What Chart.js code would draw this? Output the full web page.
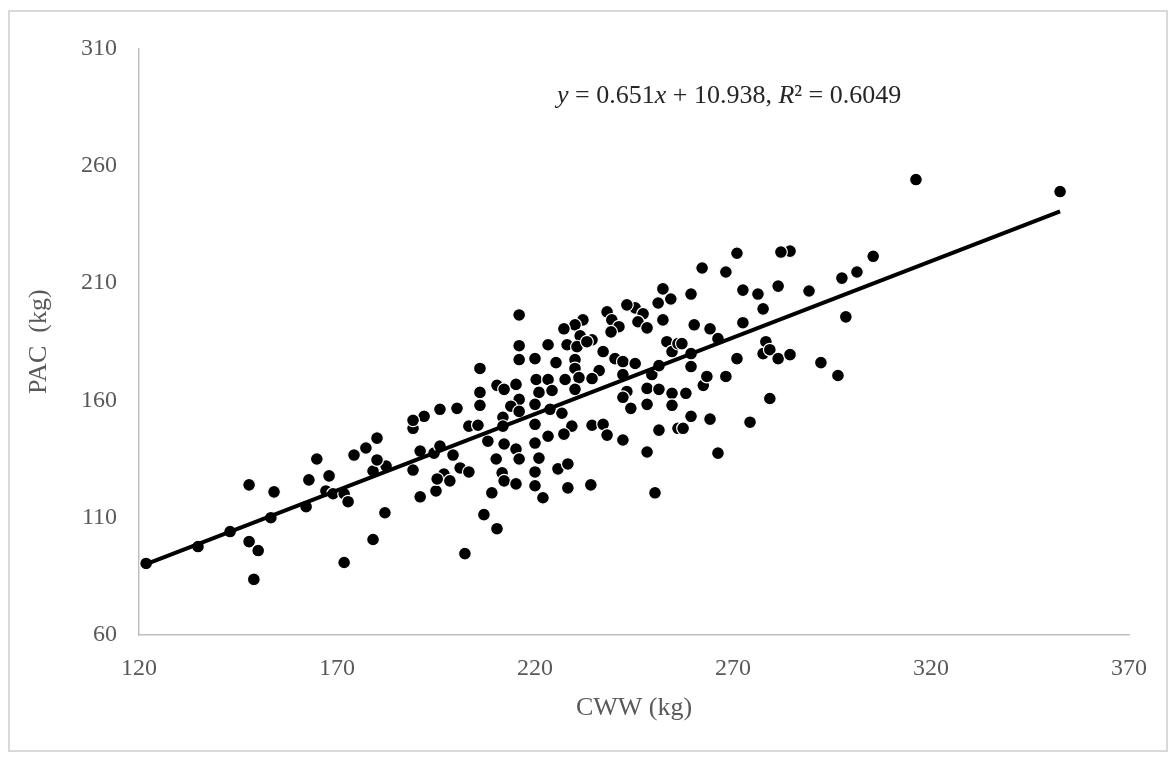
<!DOCTYPE html>
<html>
<head>
<meta charset="utf-8">
<script src="https://cdn.jsdelivr.net/npm/chart.js@4.4.1/dist/chart.umd.min.js"></script>
<style>
  html, body { margin: 0; padding: 0; background: #fff; }
  body { width: 1174px; height: 760px; position: relative; overflow: hidden; }
  #frame { position: absolute; left: 8px; top: 10px; width: 1156px; height: 738px; border: 2px solid #d9d9d9; }
  #eq { position: absolute; left: 557px; top: 82px; font-family: "Liberation Serif", serif; font-size: 26px; line-height: 26px; color: #262626; white-space: nowrap; }
</style>
</head>
<body>
<div id="frame"><canvas id="chart" width="1156" height="738"></canvas></div>
<div id="eq"><i>y</i> = 0.651<i>x</i> + 10.938, <i>R</i>² = 0.6049</div>
<script>
// CWW (kg) and PAC (kg)
const cww = [
  121.8, 134.9, 143.0, 147.8, 147.8, 150.1, 149.0, 154.1, 153.3, 162.2, 162.9, 164.9, 167.2,
  168.0, 169.0, 171.8, 172.8, 179.1, 182.4, 189.2, 182.1, 179.1, 171.8, 191.0, 195.0, 197.0, 198.5, 195.3,
  196.0, 192.0, 189.2, 189.2, 180.1, 177.3, 174.3, 180.1, 191.0, 194.5, 196.0,
  216.0, 216.0, 223.3, 216.0, 220.0, 225.3, 206.1, 210.4, 212.2, 215.2, 220.3, 223.3, 206.1, 206.1, 200.3,
  216.0, 221.0, 224.3, 213.9, 220.0, 216.0, 223.8, 211.9,
  203.3, 205.6, 211.9, 220.0, 208.1, 212.2, 215.2, 216.0, 210.2, 220.0, 223.3, 221.0, 199.3, 201.1, 203.3,
  211.7, 212.2, 215.2, 220.0, 220.0, 225.8, 209.1, 222.0, 207.1, 202.3, 210.4,
  252.3, 251.1, 254.3, 252.3, 245.3, 243.2, 247.3, 246.0, 248.3, 238.2, 239.4, 241.2, 239.2, 232.1, 230.1,
  227.3, 231.4, 234.4, 228.1, 230.6, 233.1, 237.2, 230.1, 230.1, 240.2, 242.2, 245.3, 236.2, 227.6, 231.1,
  234.4, 230.1, 242.2, 249.5, 251.3, 253.3, 254.6, 256.1, 248.3, 251.3, 254.6, 243.2,
  242.2, 244.2, 248.3, 254.6, 226.8, 229.3, 227.3, 234.4, 237.2, 238.2, 242.2, 251.3, 256.1, 248.3, 228.3,
  228.3, 234.1, 250.3,
  271.0, 284.4, 282.1, 262.2, 268.2, 259.4, 272.5, 276.3, 281.4, 277.6, 260.2, 264.2, 272.5, 266.2, 257.1, 259.4,
  278.3, 277.6, 279.3, 281.4, 284.4, 271.0, 259.4, 268.2, 262.5, 263.4, 258.1, 279.3,
  259.4, 257.4, 264.2, 274.3, 266.2,
  316.2, 352.6, 305.4, 301.3, 297.5, 289.2, 298.5, 292.2, 296.5
];
const pac = [
  90.5, 97.7, 104.1, 124.0, 99.8, 96.0, 83.7, 121.0, 110.0, 114.7, 126.1, 135.0, 121.4,
  127.8, 120.2, 120.2, 116.8, 129.9, 132.0, 130.3, 112.1, 100.7, 90.9, 118.9, 121.4, 128.6, 125.7, 126.5,
  156.2, 153.2, 148.1, 151.5, 143.9, 139.7, 136.7, 134.6, 138.4, 137.5, 140.5,
  196.4, 183.3, 183.7, 177.4, 177.8, 176.1, 173.6, 166.4, 164.7, 166.8, 168.9, 168.9, 163.4, 157.9, 156.6,
  160.4, 163.4, 164.2, 157.5, 158.3, 155.3, 156.2, 152.8,
  149.0, 149.4, 149.0, 149.8, 142.6, 141.4, 139.2, 135.0, 135.0, 141.8, 144.7, 135.4, 136.7, 131.2, 129.5,
  129.1, 125.7, 124.4, 129.5, 123.6, 130.8, 120.6, 118.5, 111.3, 94.7, 105.3,
  207.5, 201.5, 203.2, 194.3, 199.4, 200.7, 196.9, 193.5, 190.9, 197.7, 194.3, 191.4, 189.2, 194.3, 192.2,
  190.5, 187.5, 185.8, 183.7, 182.9, 185.0, 180.8, 177.4, 173.6, 177.8, 176.5, 175.7, 172.7, 168.9, 169.7,
  169.3, 164.7, 171.0, 171.0, 174.8, 185.0, 180.8, 184.2, 165.1, 164.7, 163.0, 163.8,
  161.3, 156.6, 158.3, 157.9, 154.5, 149.0, 145.6, 149.4, 149.8, 145.2, 143.1, 147.3, 148.1, 138.0, 132.9,
  122.7, 124.0, 120.6,
  222.7, 223.6, 223.2, 216.4, 214.7, 205.3, 207.0, 205.3, 208.7, 199.0, 192.2, 190.5, 193.1, 186.3, 184.2, 179.9,
  185.0, 179.9, 181.6, 177.8, 179.5, 177.8, 174.4, 170.2, 166.4, 170.2, 163.0, 160.8,
  153.2, 148.1, 152.0, 150.7, 137.5,
  254.1, 249.0, 221.4, 214.7, 212.1, 206.6, 195.6, 176.1, 170.6
];

// trend line ends (y = 0.651x + 10.938)
const trendX = [121.8, 352.6];
const trendY = [90.2, 240.5];

const axisFont = { family: "'Liberation Serif', 'Times New Roman', serif", size: 24 };
const titleFont = { family: "'Liberation Serif', 'Times New Roman', serif", size: 26 };
const grey = '#595959';

new Chart(document.getElementById('chart'), {
  type: 'scatter',
  data: {
    datasets: [
      {
        type: 'line',
        data: trendX.map((x, i) => ({ x, y: trendY[i] })),
        borderColor: '#000',
        borderWidth: 4,
        pointRadius: 0,
        fill: false,
        order: 0
      },
      {
        data: cww.map((x, i) => ({ x, y: pac[i] })),
        backgroundColor: '#000',
        borderColor: '#fff',
        borderWidth: 1.2,
        pointRadius: 6.4,
        order: 1
      }
    ]
  },
  options: {
    responsive: false,
    animation: false,
    layout: { padding: { left: 0, top: 33, right: 37, bottom: 0 } },
    plugins: { legend: { display: false }, tooltip: { enabled: false } },
    scales: {
      x: {
        type: 'linear', min: 120, max: 370,
        ticks: { stepSize: 50, color: grey, font: axisFont, padding: 19 },
        grid: { display: false, drawTicks: false },
        border: { display: true, color: '#bfbfbf', width: 1.5 },
        title: { display: true, text: 'CWW (kg)', color: grey, font: titleFont, padding: { top: 0, bottom: 26 } },
        afterFit: s => { s.height = 115; }
      },
      y: {
        type: 'linear', min: 60, max: 310,
        ticks: { stepSize: 50, color: grey, font: axisFont, padding: 22 },
        grid: { display: false, drawTicks: false },
        border: { display: true, color: '#bfbfbf', width: 1.5 },
        title: { display: true, text: 'PAC  (kg)', color: grey, font: titleFont, padding: { top: 14, bottom: 0 } },
        afterFit: s => { s.width = 129; }
      }
    }
  }
});
</script>
</body>
</html>
